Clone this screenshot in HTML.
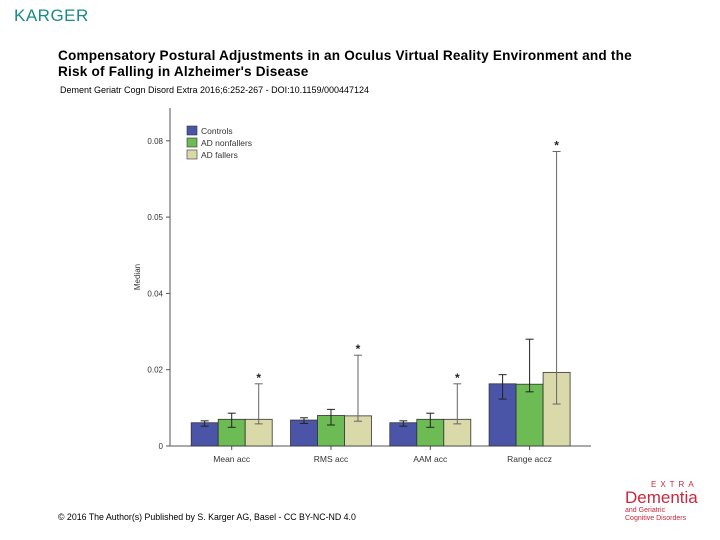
<!DOCTYPE html>
<html><head><meta charset="utf-8"><style>
body{margin:0;width:720px;height:540px;background:#fff;font-family:"Liberation Sans",sans-serif;position:relative;overflow:hidden}
.a{position:absolute;white-space:nowrap}
</style></head><body>
<div class="a" style="left:14px;top:6px;font-size:17px;color:#1a8a86;letter-spacing:0.5px">KARGER</div>
<div class="a" style="left:58px;top:48px;font-size:13.6px;font-weight:bold;line-height:16px;letter-spacing:0.2px">Compensatory Postural Adjustments in an Oculus Virtual Reality Environment and the<br>Risk of Falling in Alzheimer's Disease</div>
<div class="a" style="left:60px;top:85px;font-size:9px">Dement Geriatr Cogn Disord Extra 2016;6:252-267 - DOI:10.1159/000447124</div>
<div class="a" style="left:58px;top:512px;font-size:8.8px">© 2016 The Author(s) Published by S. Karger AG, Basel - CC BY-NC-ND 4.0</div>
<div class="a" style="left:625px;top:480px;color:#c8283c;font-size:8px;line-height:9px">
<div style="letter-spacing:4px;margin-left:26px">EXTRA</div>
<div style="font-size:17px;line-height:18px">Dementia</div>
<div style="font-size:7px;line-height:8px">and Geriatric<br>Cognitive Disorders</div></div>
<svg id="c" class="a" style="left:0;top:0" width="720" height="540"></svg>
<script>
const categories=["Mean acc","RMS acc","AAM acc","Range accz"];
const series=["Controls","AD nonfallers","AD fallers"];
const controls=[0.0061,0.0068,0.0061,0.0163];
const nonfallers=[0.0070,0.0080,0.0070,0.0162];
const fallers=[0.0070,0.0079,0.0070,0.0193];
const controlsLo=[0.0052,0.0059,0.0052,0.0123];
const controlsHi=[0.0066,0.0074,0.0066,0.0187];
const nonfallersLo=[0.0049,0.0055,0.0049,0.0142];
const nonfallersHi=[0.0086,0.0096,0.0086,0.0280];
const fallersLo=[0.0058,0.0065,0.0058,0.0110];
const fallersHi=[0.0163,0.0238,0.0163,0.0772];
const significant=[true,true,true,true];
const yTicks=[0,0.02,0.04,0.06,0.08];
const yTickLabels=["0","0.02","0.04","0.05","0.08"];
const colors=["#4a55a8","#6cbb55","#d9d9aa"];
const NS="http://www.w3.org/2000/svg",svg=document.getElementById('c');
function y(v){return 446-v*3815;}
function gx(i){return 231.7+i*99.3;}
function mk(t,a,txt){const e=document.createElementNS(NS,t);for(const k in a)e.setAttribute(k,a[k]);if(txt!=null)e.textContent=txt;svg.appendChild(e);return e;}
let e;
e=mk('line',{x1:170,y1:108,x2:170,y2:446,stroke:'#555','stroke-width':1});


e=mk('line',{x1:170,y1:446,x2:591,y2:446,stroke:'#555','stroke-width':1});


yTicks.forEach((t,i)=>{
 e=mk('line',{x1:166,y1:y(t),x2:170,y2:y(t),stroke:'#555'});
 
 
 e=mk('text',{x:163,y:y(t)+3,'text-anchor':'end','font-size':8,fill:'#333','font-family':'Liberation Sans'},yTickLabels[i]);
 
 
});
e=mk('text',{x:0,y:0,transform:'translate(140,277) rotate(-90)','text-anchor':'middle','font-size':8,fill:'#333','font-family':'Liberation Sans'},'Median');


const vals=[controls,nonfallers,fallers],lo=[controlsLo,nonfallersLo,fallersLo],hi=[controlsHi,nonfallersHi,fallersHi];
const bw=27;
categories.forEach((c,i)=>{
 const cx=gx(i);
 e=mk('line',{x1:cx,y1:446,x2:cx,y2:450,stroke:'#555'});
 
 
 e=mk('text',{x:cx,y:462,'text-anchor':'middle','font-size':8.5,fill:'#333','font-family':'Liberation Sans'},c);
 
 
 for(let s=0;s<3;s++){
  const x0=cx-1.5*bw+s*bw,v=vals[s][i];
  e=mk('rect',{x:x0,y:y(v),width:bw,height:446-y(v),fill:colors[s],stroke:'#333','stroke-width':0.8});
  
  
  const ex=x0+bw/2;
  e=mk('line',{x1:ex,y1:y(lo[s][i]),x2:ex,y2:y(hi[s][i]),stroke:s==2?'#666':'#222','stroke-width':1});
  
  
  [lo[s][i],hi[s][i]].forEach(w=>{
   e=mk('line',{x1:ex-4,y1:y(w),x2:ex+4,y2:y(w),stroke:s==2?'#666':'#222','stroke-width':1});
   
   
  });
 }
 if(significant[i]){
  e=mk('text',{x:cx+bw,y:y(fallersHi[i])-2,'text-anchor':'middle','font-size':12,'font-weight':'bold',fill:'#222','font-family':'Liberation Sans'},'*');
  
  
 }
});
series.forEach((s,i)=>{
 e=mk('rect',{x:187,y:126+i*12,width:10,height:9,fill:colors[i],stroke:'#333','stroke-width':0.6});
 
 
 e=mk('text',{x:201,y:134+i*12,'font-size':8.5,fill:'#333','font-family':'Liberation Sans'},s);
 
 
});
</script>
</body></html>
